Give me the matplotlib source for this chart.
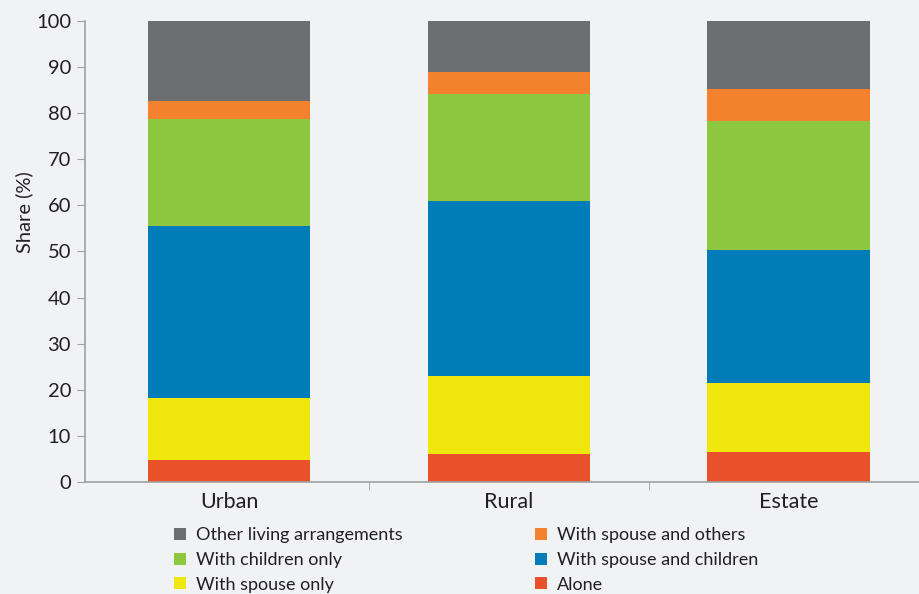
import matplotlib.pyplot as plt
import numpy as np

plt.rcParams["font.family"] = ["Lato", "DejaVu Sans"]

areas = ["Urban", "Rural", "Estate"]

# share of older persons by living arrangement (%), bottom to top of each bar
alone = [4.8, 6.1, 6.6]
spouse_only = [13.5, 16.9, 14.9]
spouse_children = [37.3, 37.9, 28.9]
children_only = [23.2, 23.2, 27.9]
spouse_others = [3.9, 4.8, 7.0]
other = [17.3, 11.1, 14.7]

series = [
    ("Alone", alone, "#e8512a"),
    ("With spouse only", spouse_only, "#f0e70f"),
    ("With spouse and children", spouse_children, "#007db8"),
    ("With children only", children_only, "#8dc63f"),
    ("With spouse and others", spouse_others, "#f3812d"),
    ("Other living arrangements", other, "#6d6e71"),
]

bg = "#f1f2f4"
fig = plt.figure(figsize=(9.2, 5.94), dpi=100, facecolor=bg)
ax = fig.add_axes([0.0924, 0.1886, 0.9076, 0.7760], facecolor=bg)

x = np.arange(len(areas))
bottom = np.zeros(len(areas))
handles = {}
for name, vals, color in series:
    bars = ax.bar(x, vals, bottom=bottom, width=0.58, color=color, label=name, linewidth=0)
    handles[name] = bars
    bottom += np.array(vals)

ax.set_xlim(-0.515, 2.47)
ax.set_ylim(0, 100)
ax.set_yticks(range(0, 101, 10))
ax.tick_params(axis="y", labelsize=14.5, length=6, color="#a0a0a0", labelcolor="#231f20", pad=4)

# category labels without ticks, separator ticks between categories
ax.set_xticks(x)
ax.set_xticklabels(areas, fontsize=15.5, color="#231f20")
ax.tick_params(axis="x", length=0, pad=7)
ax.set_xticks([0.5, 1.5], minor=True)
ax.tick_params(axis="x", which="minor", length=6, color="#a0a0a0", direction="out")

for side in ["top", "right"]:
    ax.spines[side].set_visible(False)
for side in ["left", "bottom"]:
    ax.spines[side].set_color("#a0a0a0")
    ax.spines[side].set_linewidth(1.2)

ax.set_ylabel("Share (%)", fontsize=14.5, color="#231f20")
ax.yaxis.set_label_coords(-0.062, 0.585)

order = [
    "Other living arrangements",
    "With children only",
    "With spouse only",
    "With spouse and others",
    "With spouse and children",
    "Alone",
]
leg = fig.legend(
    [handles[n] for n in order],
    order,
    ncol=2,
    loc="lower left",
    bbox_to_anchor=(0.172, -0.025),
    frameon=False,
    fontsize=13,
    handlelength=0.65,
    handleheight=0.65,
    handletextpad=0.55,
    columnspacing=7.35,
    labelspacing=0.48,
)
for t in leg.get_texts():
    t.set_color("#231f20")

fig.savefig("out.png", dpi=100, facecolor=bg)
